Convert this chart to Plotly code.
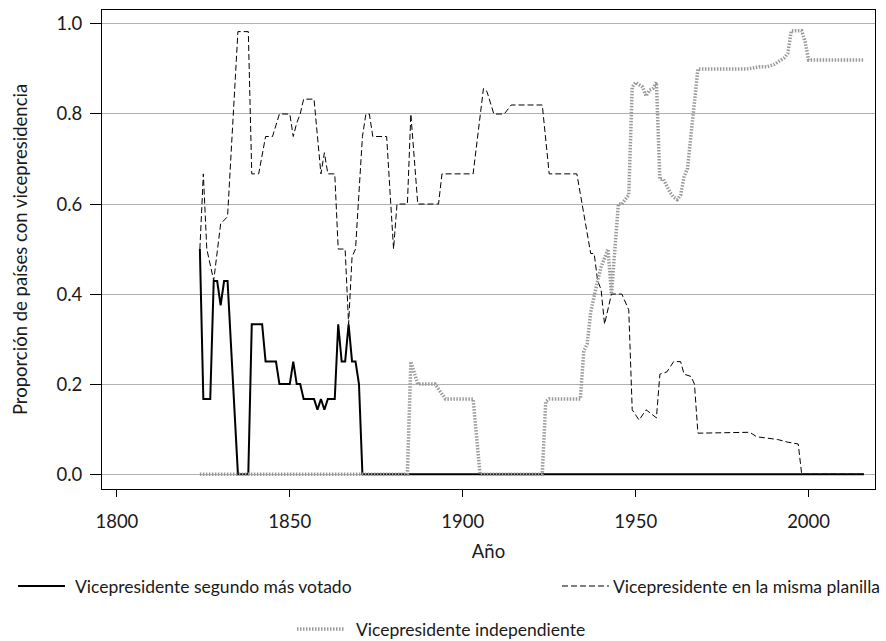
import plotly.graph_objects as go

# --- Data ---
years_seg = [1824, 1825, 1827, 1828, 1829, 1830, 1831, 1832, 1835, 1838, 1839, 1842, 1843, 1846,
             1847, 1850, 1851, 1852, 1853, 1854, 1857, 1858, 1859, 1860, 1861, 1863, 1864, 1865,
             1866, 1867, 1868, 1869, 1870, 1871, 2016]
vals_seg = [0.5, 0.167, 0.167, 0.429, 0.429, 0.375, 0.429, 0.429, 0.0, 0.0, 0.333, 0.333, 0.25, 0.25,
            0.2, 0.2, 0.25, 0.2, 0.2, 0.167, 0.167, 0.143, 0.167, 0.143, 0.167, 0.167, 0.333, 0.25,
            0.25, 0.333, 0.25, 0.25, 0.2, 0.0, 0.0]

years_mis = [1824, 1825, 1826, 1828, 1830, 1831, 1832, 1835, 1838, 1839, 1841, 1843, 1845, 1847,
             1850, 1851, 1852, 1853, 1854, 1857, 1859, 1860, 1861, 1863, 1864, 1866, 1867, 1868,
             1869, 1871, 1872, 1873, 1874, 1878, 1880, 1881, 1884, 1885, 1887, 1893, 1894, 1903,
             1905, 1906, 1907, 1909, 1912, 1914, 1923, 1925, 1933, 1937, 1938, 1939, 1940, 1941,
             1943, 1946, 1948, 1949, 1951, 1953, 1956, 1957, 1959, 1961, 1963, 1964, 1966, 1967,
             1968, 1983, 1985, 1988, 1991, 1994, 1997, 1998, 2016]
vals_mis = [0.5, 0.667, 0.5, 0.43, 0.556, 0.565, 0.572, 0.983, 0.983, 0.667, 0.667, 0.75, 0.75, 0.8,
            0.8, 0.75, 0.78, 0.8, 0.833, 0.833, 0.667, 0.714, 0.667, 0.667, 0.5, 0.5, 0.333, 0.483,
            0.5, 0.75, 0.8, 0.8, 0.75, 0.75, 0.5, 0.6, 0.6, 0.8, 0.6, 0.6, 0.667, 0.667,
            0.8, 0.857, 0.85, 0.8, 0.8, 0.82, 0.82, 0.667, 0.667, 0.49, 0.49, 0.43, 0.41, 0.333,
            0.4, 0.4, 0.365, 0.143, 0.12, 0.143, 0.125, 0.222, 0.227, 0.25, 0.25, 0.222, 0.217, 0.2,
            0.091, 0.093, 0.083, 0.08, 0.077, 0.071, 0.067, 0.0, 0.0]

years_ind = [1824, 1884, 1885, 1887, 1892, 1895, 1903, 1905, 1923, 1924, 1925, 1934, 1935, 1936,
             1937, 1938, 1939, 1940, 1941, 1942, 1943, 1945, 1946, 1947, 1948, 1949, 1950, 1952,
             1953, 1954, 1955, 1956, 1957, 1958, 1959, 1960, 1961, 1962, 1963, 1964, 1965, 1966,
             1967, 1968, 1982, 1984, 1986, 1988, 1990, 1992, 1993, 1994, 1995, 1998, 1999, 2000, 2016]
vals_ind = [0.0, 0.0, 0.25, 0.2, 0.2, 0.167, 0.167, 0.0, 0.0, 0.161, 0.167, 0.167, 0.273, 0.29,
            0.36, 0.4, 0.43, 0.46, 0.48, 0.5, 0.4, 0.6, 0.6, 0.61, 0.62, 0.86, 0.87, 0.86,
            0.84, 0.853, 0.857, 0.87, 0.655, 0.655, 0.64, 0.625, 0.615, 0.61, 0.62, 0.66, 0.68, 0.75,
            0.83, 0.9, 0.9, 0.902, 0.905, 0.905, 0.91, 0.92, 0.925, 0.935, 0.985, 0.985, 0.96, 0.92, 0.92]

x_ticks = [1800, 1850, 1900, 1950, 2000]
y_ticks = [0.0, 0.2, 0.4, 0.6, 0.8, 1.0]
y_ticktext = ["0.0", "0.2", "0.4", "0.6", "0.8", "1.0"]

name_seg = "Vicepresidente segundo más votado"
name_mis = "Vicepresidente en la misma planilla"
name_ind = "Vicepresidente independiente"

FONT = "Lato, 'Open Sans', sans-serif"
FS = 18.5
LEG_FS = 17.5

# plot area geometry (pixels) used to place the legend in paper coordinates
W, H = 886, 641
ML, MR, MT, MB = 102, 11, 10, 152
PW, PH = W - ML - MR, H - MT - MB


def px(xp):
    return (xp - ML) / PW


def py(yp):
    return (H - MB - yp) / PH


style_seg = dict(color="black", width=2)
style_mis = dict(color="black", width=1, dash="6px,3px")
style_ind = dict(color="#999999", width=3.5, dash="1.5px,1.5px")

fig = go.Figure()
fig.add_trace(go.Scatter(x=years_seg, y=vals_seg, mode="lines", name=name_seg, line=style_seg))
fig.add_trace(go.Scatter(x=years_mis, y=vals_mis, mode="lines", name=name_mis, line=style_mis))
fig.add_trace(go.Scatter(x=years_ind, y=vals_ind, mode="lines", name=name_ind, line=style_ind))

# legend: (sample x0, sample x1, text x, text anchor, row y, label, style)
legend_rows = [
    (18, 65, 73, "left", 586, name_seg, style_seg),
    (562, 609, 882, "right", 586, name_mis, style_mis),
    (297, 345, 354, "left", 629, name_ind, style_ind),
]
for x0, x1, xt, anchor, yr, label, st in legend_rows:
    fig.add_shape(type="line", xref="paper", yref="paper", x0=px(x0), x1=px(x1),
                  y0=py(yr), y1=py(yr), line=st)
    fig.add_annotation(xref="paper", yref="paper", x=px(xt), y=py(yr), text=label,
                       showarrow=False, xanchor=anchor, yanchor="middle",
                       font=dict(size=LEG_FS, family=FONT, color="#1a1a1a"))

fig.update_layout(
    width=W, height=H,
    margin=dict(l=ML, r=MR, t=MT, b=MB),
    showlegend=False,
    plot_bgcolor="white", paper_bgcolor="white",
    font=dict(family=FONT, size=FS, color="#1a1a1a"),
    xaxis=dict(range=[1795.7, 2019.2], tickvals=x_ticks, ticks="outside", ticklen=7,
               tickcolor="black", showline=True, linecolor="black", linewidth=1, mirror=True,
               showgrid=False, zeroline=False, ticklabelstandoff=9,
               title=dict(text="Año", standoff=13, font=dict(size=FS))),
    yaxis=dict(range=[-0.033, 1.031], tickvals=y_ticks, ticktext=y_ticktext, ticks="outside",
               ticklen=11, tickcolor="black", showline=True, linecolor="black", linewidth=1,
               mirror=True, showgrid=True, gridcolor="#b0b0b0", gridwidth=1,
               zeroline=True, zerolinecolor="#b0b0b0", zerolinewidth=1, ticklabelstandoff=4,
               title=dict(text="Proporción de países con vicepresidencia", standoff=23,
                          font=dict(size=FS))),
)

fig.write_html("out.html", config={"displayModeBar": False},
               post_script="document.body.style.margin='0px';document.body.style.overflow='hidden';")
